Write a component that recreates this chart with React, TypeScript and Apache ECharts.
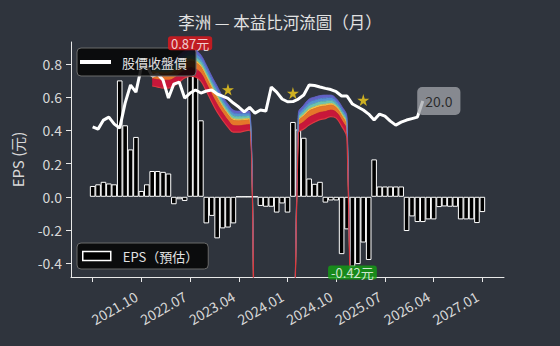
import React, { useEffect, useRef } from 'react';
import * as echarts from 'echarts';

const FONT = '"Noto Sans CJK TC", "Noto Sans", sans-serif';

// axis categories: 2020.09 .. 2027.05 (monthly)
const axisMonths: string[] = (() => {
  const out: string[] = [];
  let y = 2020;
  let m = 9;
  while (y < 2027 || (y === 2027 && m <= 5)) {
    out.push(`${y}.${m < 10 ? '0' + m : m}`);
    m += 1;
    if (m > 12) { m = 1; y += 1; }
  }
  return out;
})();
const firstDataMonth = '2021.01';
const xTickMonths = ['2021.01', '2021.10', '2022.07', '2023.04', '2024.01', '2024.10', '2025.07', '2026.04', '2027.01'];
const xLabelMonths = ['2021.10', '2022.07', '2023.04', '2024.01', '2024.10', '2025.07', '2026.04', '2027.01'];
const yTickValues = [-0.4, -0.2, 0, 0.2, 0.4, 0.6, 0.8];

// monthly EPS from 2021.01 to 2027.01
const epsValues = [
  0.065, 0.075, 0.09, 0.08, 0.075, 0.70, 0.43, 0.285, 0.36, 0.035,
  0.075, 0.155, 0.155, 0.15, 0.14, -0.045, -0.015, -0.025, 0.87, 0.78,
  0.46, -0.16, -0.115, -0.25, -0.19, -0.185, -0.16, 0, 0, 0,
  0, -0.055, -0.06, -0.06, -0.095, -0.04, -0.095, 0.45, 0.405, 0.355,
  0.11, 0.078, 0.09, -0.035, -0.022, -0.022, -0.345, -0.196, -0.42, -0.405,
  -0.275, -0.38, 0.225, 0.062, 0.062, 0.062, 0.062, 0.062, -0.206, -0.118,
  -0.152, -0.152, -0.136, -0.136, -0.062, -0.058, -0.06, -0.06, -0.136, -0.136,
  -0.136, -0.158, -0.092,
];

// monthly close price from 2021.01 to 2026.02
const closePrices = [
  17.07, 16.8, 17.83, 18.17, 17.37, 16.92, 19.76, 21.81, 21.01, 23.86,
  23.97, 22.83, 23.06, 22.38, 20.33, 21.92, 22.15, 20.33, 20.9, 21.24,
  20.9, 21.13, 21.24, 20.79, 20.56, 20.3, 19.76, 19.31, 18.77, 19.27,
  18.62, 18.97, 18.85, 21.58, 21.01, 20.22, 19.91, 19.93, 20.22, 20.67,
  21.81, 21.75, 21.58, 21.43, 21.3, 21.05, 20.56, 20.56, 19.65, 19.31,
  18.97, 18.51, 17.83, 18.51, 18.28, 17.71, 17.26, 17.6, 17.83, 18.0,
  18.17, 20.0,
];

// river (PE band) lowest and highest line, 2021.01 .. 2027.01; -30 = far below chart (negative EPS)
const N = null;
const riverLow = [
  N, N, N, N, N, N, N, N, N, N, N,
  21.70, 21.58, 21.47, 21.47, 21.70, 22.15, 22.61, 22.83, 22.72, 22.26,
  21.13, 19.88, 18.74, 17.83, 17.03, 16.46, 16.46, 16.58, 16.69,
  -30, N, N, N, N, N, N, -30,
  16.35, 16.81, 17.26, 17.6, 17.88, 18.0, 18.23, 18.05, 17.14, 15.78,
  -30, N, N, N, N, N, N, N, N, N, N, N, N, N, N, N, N, N, N, N, N, N, N, N, N,
];
const riverHigh = [
  N, N, N, N, N, N, N, N, N, N, N,
  24.43, 24.43, 24.43, 24.43, 24.65, 25.22, 25.68, 26.02, 25.79, 25.22,
  24.09, 22.83, 21.70, 20.56, 19.65, 18.97, 18.85, 18.85, 18.85,
  -30, N, N, N, N, N, N, -30,
  18.62, 19.53, 20.22, 20.44, 20.61, 20.67, 20.67, 20.27, 19.42, 18.17,
  -30, N, N, N, N, N, N, N, N, N, N, N, N, N, N, N, N, N, N, N, N, N, N, N, N,
];
const bandShares = [0.30, 0.24, 0.07, 0.13, 0.13, 0.13];
const bandColors = ['#c8173a', '#e5762a', '#f3c64a', '#6cc3ae', '#5591d2', '#6262c6'];

const starMonths = ['2023.02', '2024.02', '2025.03'];
const starValues = [21.3, 20.9, 20.1];

const offset = axisMonths.indexOf(firstDataMonth);
function pad(arr: (number | null)[]) {
  const out: (number | null)[] = new Array(axisMonths.length).fill(null);
  arr.forEach((v, i) => { out[offset + i] = v; });
  return out;
}

export default function App() {
  const ref = useRef<HTMLDivElement>(null);
  useEffect(() => {
    if (!ref.current) return;
    const chart = echarts.init(ref.current, undefined, { renderer: 'svg' });

    const maxV = Math.max(...epsValues);
    const minV = Math.min(...epsValues);
    const maxI = epsValues.indexOf(maxV);
    const minI = epsValues.indexOf(minV);
    const lastI = closePrices.length - 1;

    const riverSeries: any[] = [];
    riverSeries.push({
      type: 'line', name: 'riverBase', yAxisIndex: 1, stack: 'river', stackStrategy: 'all',
      data: pad(riverLow), smooth: 0.4, symbol: 'none', silent: true,
      lineStyle: { color: '#dc3a40', width: 1.2 }, z: 3,
    });
    bandShares.forEach((s, k) => {
      riverSeries.push({
        type: 'line', name: 'band' + k, yAxisIndex: 1, stack: 'river', stackStrategy: 'all',
        data: pad(riverLow.map((lo, i) => (lo == null ? null : ((riverHigh[i] as number) - lo) * s))),
        smooth: 0.4, symbol: 'none', silent: true,
        lineStyle: { color: bandColors[k], width: 0.8 },
        areaStyle: { color: bandColors[k], opacity: 1 },
        z: 2,
      });
    });

    const option: any = {
      backgroundColor: '#2f343d',
      animation: false,
      textStyle: { fontFamily: FONT },
      title: {
        text: '李洲 — 本益比河流圖（月）', left: 'center', top: 9,
        textStyle: { color: '#e2e2e2', fontSize: 16.5, fontWeight: 'normal', fontFamily: FONT },
      },
      grid: { left: 71, right: 56, top: 42, bottom: 69, outerBoundsMode: 'none' },
      legend: [
        {
          data: ['股價收盤價'], left: 77, top: 48, orient: 'vertical', selectedMode: false,
          icon: 'rect', itemWidth: 31, itemHeight: 4,
          backgroundColor: 'rgba(6,6,6,0.86)', borderColor: '#6b6b6b', borderWidth: 1, borderRadius: 4,
          padding: [7, 9, 7, 3],
          textStyle: { color: '#e2e2e2', fontSize: 13, lineHeight: 14, fontFamily: FONT, padding: [0, 0, 0, 6] },
        },
        {
          data: ['EPS（預估）'], left: 77, top: 243, orient: 'vertical', selectedMode: false,
          icon: 'rect', itemWidth: 28, itemHeight: 9,
          itemStyle: { color: '#000', borderColor: '#fff', borderWidth: 1.5 },
          backgroundColor: 'rgba(6,6,6,0.86)', borderColor: '#6b6b6b', borderWidth: 1, borderRadius: 4,
          padding: [6, 10, 6, 5],
          textStyle: { color: '#e2e2e2', fontSize: 13, lineHeight: 14, fontFamily: FONT, padding: [0, 0, 0, 7] },
        },
      ],
      xAxis: {
        type: 'category', data: axisMonths, boundaryGap: false,
        axisLine: { onZero: false, lineStyle: { color: '#e8e8e8', width: 1 } },
        axisTick: {
          interval: (_i: number, v: string) => xTickMonths.includes(v),
          length: 5, lineStyle: { color: '#e8e8e8' },
        },
        axisLabel: {
          interval: (_i: number, v: string) => xLabelMonths.includes(v),
          rotate: 30, color: '#d8d8d8', fontSize: 14, margin: 15, fontFamily: FONT,
          padding: [0, 6, 0, 0],
        },
        splitLine: { show: false },
      },
      yAxis: [
        {
          type: 'value', min: -0.4825, max: 0.931,
          name: 'EPS (元)', nameLocation: 'middle', nameGap: 46,
          nameTextStyle: { color: '#d8d8d8', fontSize: 15, fontFamily: FONT },
          axisLine: { show: true, lineStyle: { color: '#e8e8e8', width: 1 } },
          axisTick: { show: true, length: 5, customValues: yTickValues, lineStyle: { color: '#e8e8e8' } },
          axisLabel: {
            customValues: yTickValues, color: '#d8d8d8', fontSize: 14, margin: 9, fontFamily: FONT,
            formatter: (v: number) => v.toFixed(1),
          },
          splitLine: { show: false },
        },
        { type: 'value', min: 0, max: 26.7, show: false, splitLine: { show: false } },
      ],
      series: [
        {
          type: 'bar', name: 'EPS（預估）', yAxisIndex: 0, data: pad(epsValues),
          barWidth: 5.6, barGap: '0%', silent: true,
          itemStyle: { color: '#000', borderColor: '#fff', borderWidth: 1 },
          z: 1,
        },
        ...riverSeries,
        {
          type: 'line', name: '股價收盤價', yAxisIndex: 1, data: pad(closePrices),
          symbol: 'none', silent: true,
          lineStyle: { color: '#ffffff', width: 3 }, itemStyle: { color: '#ffffff' },
          z: 3,
        },
        {
          type: 'scatter', name: 'stars', yAxisIndex: 1, silent: true,
          data: starMonths.map((m, i) => [m, starValues[i]]),
          symbol: 'path://M50,0 L61,35 L98,35 L68,57 L79,91 L50,70 L21,91 L32,57 L2,35 L39,35 Z',
          symbolSize: 12, itemStyle: { color: '#f6d01b' }, z: 3,
        },
        {
          type: 'scatter', name: 'epsMarks', yAxisIndex: 0, silent: true, symbolSize: 0, z: 6,
          data: [
            {
              value: [axisMonths[offset + maxI], maxV],
              label: {
                show: true, position: 'top', distance: 2, formatter: maxV.toFixed(2) + '元',
                backgroundColor: '#e5161c', color: '#ffffff', fontSize: 13, lineHeight: 14,
                padding: [0, 3], borderRadius: 3, fontFamily: FONT,
              },
            },
            {
              value: [axisMonths[offset + minI], minV],
              label: {
                show: true, position: 'bottom', distance: -1, formatter: minV.toFixed(2) + '元',
                backgroundColor: '#13a013', color: '#ffffff', fontSize: 13, lineHeight: 14,
                padding: [0, 3], borderRadius: 3, fontFamily: FONT,
              },
            },
          ],
        },
        {
          type: 'scatter', name: 'lastPrice', yAxisIndex: 1, silent: true, symbolSize: 0, z: 6,
          data: [
            {
              value: [axisMonths[offset + lastI], closePrices[lastI]],
              label: {
                show: true, position: 'inside', offset: [16, 0], formatter: closePrices[lastI].toFixed(1),
                backgroundColor: 'rgba(165,168,173,0.92)', color: '#111111', fontSize: 14, lineHeight: 14,
                padding: [7, 8], borderRadius: 5, fontFamily: FONT,
              },
            },
          ],
        },
      ],
    };
    chart.setOption(option);
    return () => chart.dispose();
  }, []);
  return (
    <div
      ref={ref}
      style={{ position: 'absolute', left: 0, top: 0, width: 560, height: 346 }}
    />
  );
}
